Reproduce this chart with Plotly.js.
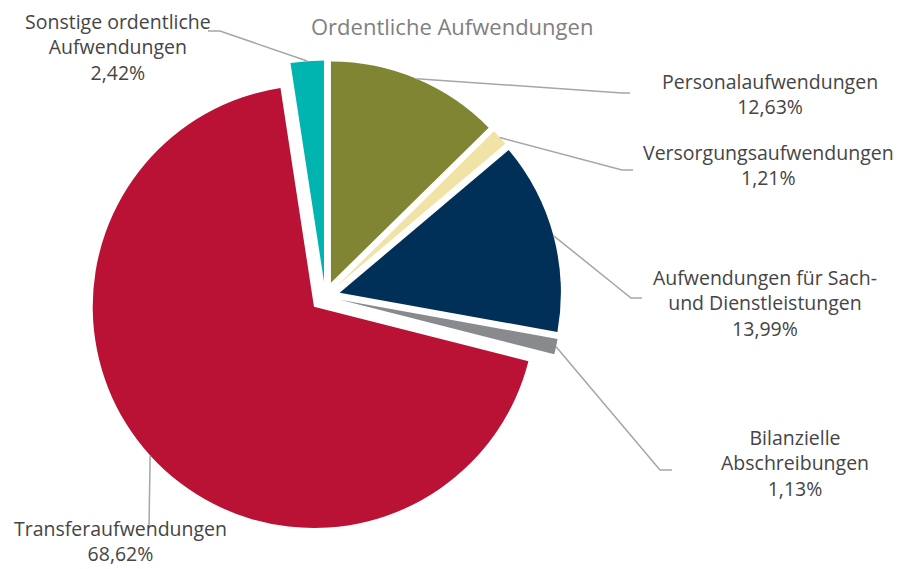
<!DOCTYPE html>
<html><head><meta charset="utf-8">
<script src="https://cdn.plot.ly/plotly-3.0.1.min.js"></script>
<style>html,body{margin:0;padding:0;background:#fff}</style>
</head><body><div id="chart" style="width:899px;height:569px"></div>
<script>
// ---- data ----
const categories = ["Personalaufwendungen", "Versorgungsaufwendungen", "Aufwendungen für Sach- und Dienstleistungen", "Bilanzielle Abschreibungen", "Transferaufwendungen", "Sonstige ordentliche Aufwendungen"];
const labelLines = ["Personalaufwendungen", "Versorgungsaufwendungen", "Aufwendungen für Sach-<br>und Dienstleistungen", "Bilanzielle<br>Abschreibungen", "Transferaufwendungen", "Sonstige ordentliche<br>Aufwendungen"];
const values = [12.63, 1.21, 13.99, 1.13, 68.62, 2.42];
const chartTitle = "Ordentliche Aufwendungen";

// ---- styles / layout config ----
const colors = ["#7F8532", "#F1E3A5", "#003057", "#888A8D", "#B91234", "#00B4B0"];
const W = 899, H = 569;
const PULL = 0.068;
const DOMAIN_X = [0.0988, 0.6245];
const DOMAIN_Y = [0.0633, 0.8939];
// label placement in pixels: elbow point, end of horizontal stub, label centre
const placement = [
  {elbow:[622,93],  end:[630,93],  label:[770,94]},
  {elbow:[622,170], end:[633,170], label:[768,165]},
  {elbow:[631,298], end:[642,298], label:[765,303]},
  {elbow:[660,470], end:[672,470], label:[795,463]},
  {elbow:[149,528], end:null,      label:[121,541]},
  {elbow:[220,31],  end:[208,31],  label:[118,47]}
];
const LINE_COLOR = "#A6A6A6";
const TEXT_COLOR = "#454545";
const FONT = "'Open Sans', Roboto, sans-serif";

function fmtPct(v){ return v.toFixed(2).replace('.', ',') + '%'; }
function px2paper(p){ return [p[0]/W, 1 - p[1]/H]; }

const gd = document.getElementById('chart');
const trace = {
  type: 'pie',
  labels: categories,
  values: values,
  sort: false,
  direction: 'clockwise',
  rotation: 0,
  pull: values.map(() => PULL),
  marker: {colors: colors, line: {width: 0}},
  textinfo: 'none',
  hoverinfo: 'none',
  domain: {x: DOMAIN_X, y: DOMAIN_Y}
};
const layout = {
  width: W, height: H,
  margin: {l:0, r:0, t:0, b:0},
  showlegend: false,
  paper_bgcolor: '#fff',
  font: {family: FONT, color: TEXT_COLOR},
  title: {text: chartTitle, x: 0.503, xanchor: 'center', y: 1 - 27/H, yanchor: 'middle',
          font: {family: FONT, size: 22, color: '#808080'}}
};

Plotly.newPlot(gd, [trace], layout, {displayModeBar: false, staticPlot: true}).then(() => {
  // anchor points on slice arcs, from the library's own pie geometry
  let anchors;
  const cd = gd.calcdata && gd.calcdata[0];
  if (cd && cd[0] && cd[0].r && cd[0].pxmid) {
    anchors = cd.map(pt => [cd[0].cx + pt.pxmid[0]*(1+PULL), cd[0].cy + pt.pxmid[1]*(1+PULL)]);
  }
  if (!anchors || anchors.some(a => !isFinite(a[0]) || !isFinite(a[1]))) {
    const rx = W*(DOMAIN_X[1]-DOMAIN_X[0])/2, ry = H*(DOMAIN_Y[1]-DOMAIN_Y[0])/2;
    const r = Math.min(rx, ry)/(1+PULL);
    const cx = W*(DOMAIN_X[0]+DOMAIN_X[1])/2, cy = H*(1-DOMAIN_Y[0]) - ry;
    const tot = values.reduce((a,b)=>a+b,0);
    let acc = 0;
    anchors = values.map(v => { const mid = (acc + v/2)/tot*2*Math.PI; acc += v;
      return [cx + Math.sin(mid)*r*(1+PULL), cy - Math.cos(mid)*r*(1+PULL)]; });
  }
  const shapes = [], annotations = [];
  placement.forEach((p, i) => {
    const pts = [anchors[i], p.elbow].concat(p.end ? [p.end] : []).map(px2paper);
    shapes.push({type:'path', xref:'paper', yref:'paper',
      path: 'M' + pts.map(q => q[0] + ',' + q[1]).join(' L'),
      line: {color: LINE_COLOR, width: 1.5}});
    const lp = px2paper(p.label);
    annotations.push({xref:'paper', yref:'paper', x: lp[0], y: lp[1], xanchor:'center', yanchor:'middle',
      showarrow:false, align:'center', text: labelLines[i] + '<br>' + fmtPct(values[i]),
      font: {family: FONT, size: 19.5, color: TEXT_COLOR}});
  });
  return Plotly.relayout(gd, {shapes: shapes, annotations: annotations});
});
</script>
</body></html>
